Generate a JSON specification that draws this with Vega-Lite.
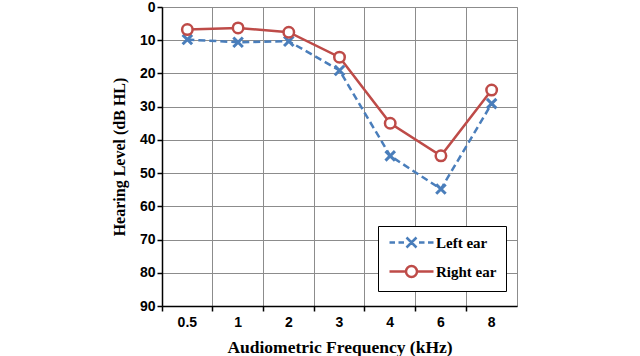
{
  "$schema": "https://vega.github.io/schema/vega-lite/v6.json",
  "autosize": {"type": "none"},
  "padding": {"left": 162, "top": 7, "right": 123, "bottom": 50},
  "width": 355,
  "height": 299,
  "background": "white",
  "config": {
    "view": {"stroke": "#8c8c8c", "strokeWidth": 1},
    "axis": {
      "labelFont": "Liberation Sans", "labelFontWeight": "bold", "labelFontSize": 14, "labelColor": "black",
      "titleFont": "Liberation Serif", "titleFontWeight": "bold", "titleFontSize": 16, "titleColor": "black",
      "domainColor": "black", "domainWidth": 1.5, "tickColor": "black", "tickWidth": 1.5, "tickSize": 5,
      "gridColor": "#8c8c8c", "gridWidth": 1, "gridOpacity": 1
    }
  },
  "data": {"values": [
    {"freq": "0.5", "ear": "Left ear", "level": 9.8},
    {"freq": "1", "ear": "Left ear", "level": 10.6},
    {"freq": "2", "ear": "Left ear", "level": 10.3},
    {"freq": "3", "ear": "Left ear", "level": 19.1},
    {"freq": "4", "ear": "Left ear", "level": 44.8},
    {"freq": "6", "ear": "Left ear", "level": 54.8},
    {"freq": "8", "ear": "Left ear", "level": 29.1},
    {"freq": "0.5", "ear": "Right ear", "level": 6.8},
    {"freq": "1", "ear": "Right ear", "level": 6.3},
    {"freq": "2", "ear": "Right ear", "level": 7.6},
    {"freq": "3", "ear": "Right ear", "level": 15.1},
    {"freq": "4", "ear": "Right ear", "level": 35},
    {"freq": "6", "ear": "Right ear", "level": 44.8},
    {"freq": "8", "ear": "Right ear", "level": 25}
  ]},
  "encoding": {
    "x": {
      "field": "freq", "type": "ordinal",
      "sort": ["0.5", "1", "2", "3", "4", "6", "8"],
      "scale": {"type": "band", "paddingInner": 0, "paddingOuter": 0},
      "axis": {"title": "Audiometric Frequency (kHz)", "titleFontSize": 17.5, "labelAngle": 0, "bandPosition": 0, "grid": true, "labelPadding": 4, "titlePadding": 9}
    },
    "y": {
      "field": "level", "type": "quantitative",
      "scale": {"domain": [0, 90], "reverse": true, "nice": false},
      "axis": {"title": "Hearing Level (dB HL)", "values": [0, 10, 20, 30, 40, 50, 60, 70, 80, 90], "grid": true, "labelPadding": 2, "titlePadding": 12}
    }
  },
  "layer": [
    {
      "transform": [{"filter": "datum.ear == 'Left ear'"}],
      "mark": {"type": "line", "color": "#4A7EBB", "strokeWidth": 2.5, "strokeDash": [7, 4]}
    },
    {
      "transform": [{"filter": "datum.ear == 'Right ear'"}],
      "mark": {"type": "line", "color": "#BE4B48", "strokeWidth": 2.5}
    },
    {
      "transform": [{"filter": "datum.ear == 'Left ear'"}],
      "mark": {"type": "point", "shape": "M-1,-1L1,1M-1,1L1,-1", "size": 90, "filled": false, "color": "#4A7EBB", "strokeWidth": 3, "opacity": 1}
    },
    {
      "transform": [{"filter": "datum.ear == 'Right ear'"}],
      "mark": {"type": "point", "shape": "circle", "size": 110, "filled": false, "fill": "white", "color": "#BE4B48", "strokeWidth": 2.5, "opacity": 1}
    },
    {
      "mark": {"type": "point", "filled": false, "opacity": 0, "strokeWidth": 2.5},
      "encoding": {
        "color": {
          "field": "ear", "type": "nominal",
          "scale": {"domain": ["Left ear", "Right ear"], "range": ["#4A7EBB", "#BE4B48"]},
          "legend": {
            "title": null, "orient": "none", "legendX": 216, "legendY": 219,
            "strokeColor": "black", "fillColor": "white", "padding": 9, "rowPadding": 8,
            "symbolSize": 100, "symbolOpacity": 1, "symbolStrokeWidth": 2.5, "symbolFillColor": "white",
            "symbolOffset": 17, "labelOffset": 17,
            "labelFont": "Liberation Serif", "labelFontWeight": "bold", "labelFontSize": 15, "labelColor": "black"
          }
        },
        "shape": {
          "field": "ear", "type": "nominal",
          "scale": {"domain": ["Left ear", "Right ear"], "range": [
            "M-4.4,0H-3.3M-2.6,0H-1.5M1.5,0H2.6M3.3,0H4.4M-1,-1L1,1M-1,1L1,-1",
            "M-4.4,0H-1.1M1.1,0H4.4M-1.1,0A1.1,1.1 0 1,0 1.1,0A1.1,1.1 0 1,0 -1.1,0"
          ]}
        }
      }
    }
  ]
}
